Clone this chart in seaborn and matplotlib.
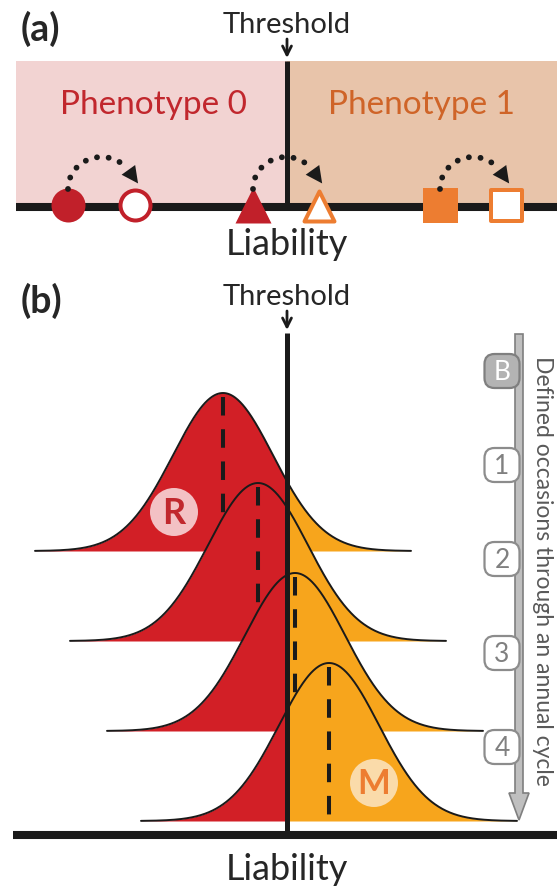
import numpy as np
import matplotlib
matplotlib.use("Agg")
import matplotlib.pyplot as plt
from matplotlib.patches import Rectangle, FancyBboxPatch, FancyArrow, Circle
import seaborn as sns

# Liability scale: threshold at 0, standard deviation of each distribution = 1
threshold = 0.0
sd = 1.0
occasion_means = [-1.28, -0.58, 0.16, 0.84]
occasion_labels = ["B", "1", "2", "3", "4"]

# Panel (a): liability of an individual before (filled) and after (open) a shift
circle_liab = [-4.38, -3.04]
triangle_liab = [-0.68, 0.64]
square_liab = [3.06, 4.38]
phenotype_labels = ["Phenotype 0", "Phenotype 1"]
axis_label = "Liability"
threshold_label = "Threshold"
side_label = "Defined occasions through an annual cycle"

RED = "#D21F26"
ORANGE_FILL = "#F7A51C"
MARK_RED = "#C1202A"
MARK_ORANGE = "#ED7D31"
PINK_BG = "#F2D3D2"
PEACH_BG = "#E8C4AA"
GREY = "#BFBFBF"
GREY_EDGE = "#7F7F7F"

W, H = 557, 888
sns.set_theme(style="white")
plt.rcParams["font.family"] = ["Lato", "DejaVu Sans"]

fig = plt.figure(figsize=(W / 100, H / 100), dpi=100)

# Main axes: x is liability, y runs down the figure in pixel rows
ax = fig.add_axes([0, 0, 1, 1])
x_lo, x_hi = -5.74, 5.40
ax.set_xlim(x_lo, x_hi)
ax.set_ylim(H, 0)
ax.axis("off")
px_per_unit = W / (x_hi - x_lo)

# Overlay axes in pixel units for labels and the timeline
lay = fig.add_axes([0, 0, 1, 1])
lay.set_xlim(0, W)
lay.set_ylim(H, 0)
lay.axis("off")
lay.patch.set_alpha(0)

# ---------------- panel (a) ----------------
a_top, a_base = 61, 207
a_left = -5.42
ax.add_patch(Rectangle((a_left, a_top), threshold - a_left, a_base - a_top,
                       fc=PINK_BG, ec="none", zorder=1))
ax.add_patch(Rectangle((threshold, a_top), x_hi - threshold, a_base - a_top,
                       fc=PEACH_BG, ec="none", zorder=1))
ax.plot([threshold, threshold], [a_top, a_base], color="k", lw=3.6,
        solid_capstyle="butt", zorder=3)
ax.plot([a_left, x_hi], [a_base, a_base], color="k", lw=5.8,
        solid_capstyle="butt", zorder=3)

mk_y = 205
pt = 72 / 100  # points per pixel
# filled (before) and open (after) markers
sns.scatterplot(x=[circle_liab[0]], y=[mk_y], marker="o", s=(34 * pt) ** 2,
                color=MARK_RED, linewidth=0, ax=ax, zorder=5)
sns.scatterplot(x=[circle_liab[1]], y=[mk_y], marker="o", s=(30 * pt) ** 2,
                color="white", edgecolor=MARK_RED, linewidth=4 * pt, ax=ax, zorder=5)
sns.scatterplot(x=[triangle_liab[0]], y=[mk_y], marker="^", s=(36 * pt) ** 2,
                color=MARK_RED, linewidth=0, ax=ax, zorder=5)
sns.scatterplot(x=[triangle_liab[1]], y=[mk_y + 1], marker="^", s=(30 * pt) ** 2,
                color="white", edgecolor=MARK_ORANGE, linewidth=4 * pt, ax=ax, zorder=5)
sns.scatterplot(x=[square_liab[0]], y=[mk_y], marker="s", s=(35 * pt) ** 2,
                color=MARK_ORANGE, linewidth=0, ax=ax, zorder=5)
sns.scatterplot(x=[square_liab[1]], y=[mk_y], marker="s", s=(31 * pt) ** 2,
                color="white", edgecolor=MARK_ORANGE, linewidth=4 * pt, ax=ax, zorder=5)

# dotted arcs with arrowheads from each filled marker to its open partner
arc_r_px = 32
arc_cy = 189
for x0, x1 in (circle_liab, triangle_liab, square_liab):
    xc = (x0 + x1) / 2
    rx = (x1 - x0) / 2
    th = np.linspace(np.pi, 0.68, 60)
    xs = xc + rx * np.cos(th)
    ys = arc_cy - arc_r_px * np.sin(th)
    ax.plot(xs, ys, color="k", lw=4.2, linestyle=(0, (0.01, 2.0)),
            dash_capstyle="round", zorder=6)
    t_end = 0.62
    bx = xc + rx * np.cos(t_end)
    by = arc_cy - arc_r_px * np.sin(t_end)
    dx_px, dy_px = 16 * np.sin(t_end), 16 * np.cos(t_end)
    ax.annotate("", xy=(bx + dx_px / px_per_unit, by + dy_px), xytext=(bx, by),
                arrowprops=dict(arrowstyle="-|>,head_length=0.6,head_width=0.3",
                                color="k", lw=0, mutation_scale=20,
                                shrinkA=0, shrinkB=0), zorder=6)

lay.text(153, 114, phenotype_labels[0], ha="center", va="baseline",
         fontsize=24, color="#C1272D")
lay.text(422, 114, phenotype_labels[1], ha="center", va="baseline",
         fontsize=24, color="#CF6428")
ax.text(threshold, 33, threshold_label, ha="center", va="baseline", fontsize=21)
ax.annotate("", xy=(threshold, 58), xytext=(threshold, 39),
            arrowprops=dict(arrowstyle="->", color="k", lw=2.0, mutation_scale=16,
                            shrinkA=0, shrinkB=0))
ax.text(threshold, 255, axis_label, ha="center", va="baseline", fontsize=26)
lay.text(21, 41, "(a)", ha="left", va="baseline", fontsize=27, fontweight="bold")

# ---------------- panel (b) ----------------
base0, base_step = 551, 90
peak_px = 158
half_span = 3.76
for i, mu in enumerate(occasion_means):
    base = base0 + base_step * i
    x = np.linspace(mu - half_span * sd, mu + half_span * sd, 600)
    dens = np.exp(-0.5 * ((x - mu) / sd) ** 2)
    y = base - peak_px * dens
    z = 2 + i * 0.1
    left = x <= threshold
    xl = np.append(x[left], threshold)
    yl = np.append(y[left], base - peak_px * np.exp(-0.5 * ((threshold - mu) / sd) ** 2))
    xr = np.insert(x[~left], 0, threshold)
    yr = np.insert(y[~left], 0, yl[-1])
    ax.fill_between(xl, base, yl, color=RED, lw=0, zorder=z)
    ax.fill_between(xr, base, yr, color=ORANGE_FILL, lw=0, zorder=z)
    sns.lineplot(x=x, y=y, sort=False, color="k", lw=1.4, ax=ax, zorder=z + 0.02)
    ax.plot([mu, mu], [base - peak_px + 4, base - 5], color="k", lw=2.9,
            dashes=(4.6, 3.4), zorder=z + 0.01)

ax.plot([threshold, threshold], [333, 835], color="k", lw=3.6,
        solid_capstyle="butt", zorder=10)
ax.plot([-5.48, x_hi], [835, 835], color="k", lw=5.8,
        solid_capstyle="butt", zorder=10)
ax.text(threshold, 305, threshold_label, ha="center", va="baseline", fontsize=21)
ax.annotate("", xy=(threshold, 330), xytext=(threshold, 311),
            arrowprops=dict(arrowstyle="->", color="k", lw=2.0, mutation_scale=16,
                            shrinkA=0, shrinkB=0))
ax.text(threshold, 880, axis_label, ha="center", va="baseline", fontsize=26)
lay.text(21, 313, "(b)", ha="left", va="baseline", fontsize=27, fontweight="bold")

# group badges inside the first and last distributions
lay.add_patch(Circle((174, 512), 24, fc="#F3C1C4", ec="none", zorder=3))
lay.text(174, 513, "R", ha="center", va="center", fontsize=26,
         fontweight="bold", color="#C1272D", zorder=4)
lay.add_patch(Circle((374, 783), 24, fc="#FADBAA", ec="none", zorder=3))
lay.text(374, 784, "M", ha="center", va="center", fontsize=25,
         fontweight="bold", color=MARK_ORANGE, zorder=4)

# timeline of occasions
lay.add_patch(FancyArrow(519, 334, 0, 486, width=8, head_width=20, head_length=27,
                         length_includes_head=True, fc=GREY, ec=GREY_EDGE,
                         lw=1.2, zorder=2))
for k, lab in enumerate(occasion_labels):
    cy = 371 + 94 * k
    first = k == 0
    lay.add_patch(FancyBboxPatch((502 - 17.5, cy - 17), 35, 34,
                                 boxstyle="round,pad=0,rounding_size=10",
                                 fc="#B3B3B3" if first else "white",
                                 ec="#7F7F7F" if first else "#8C8C8C",
                                 lw=1.6, zorder=3))
    lay.text(502, cy + 1, lab, ha="center", va="center", fontsize=19,
             color="white" if first else "#808080", zorder=4)
lay.text(543, 571, side_label, ha="center", va="center", rotation=-90,
         fontsize=16.5, color="#595959")

fig.savefig("out.png", dpi=100)
